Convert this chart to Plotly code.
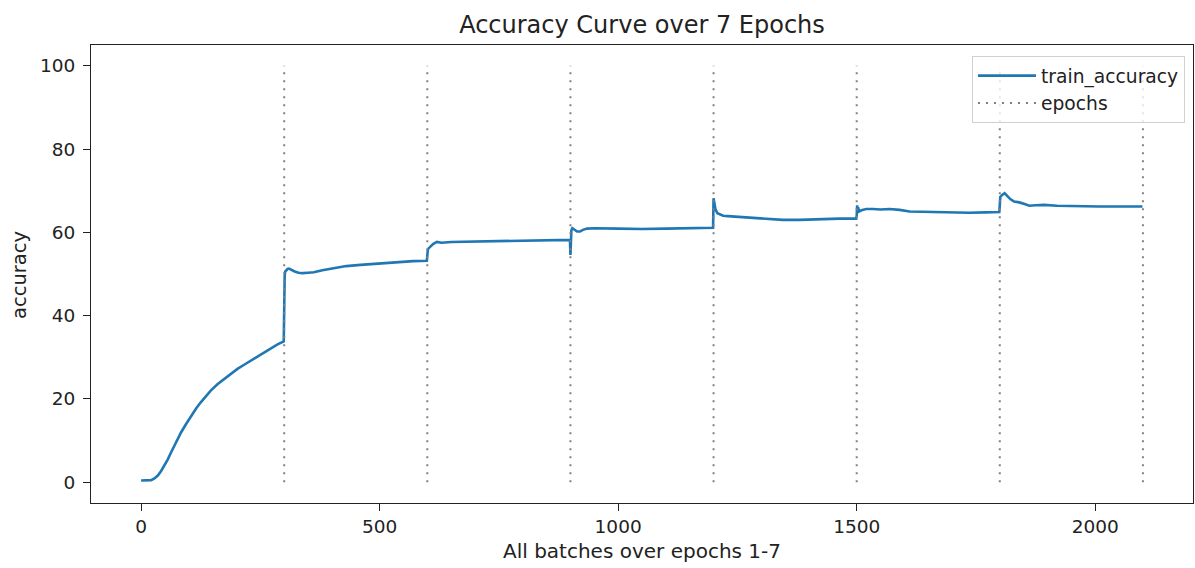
import plotly.graph_objects as go

# ---- data ----
batch_x = [
    0, 10, 21, 28, 35, 42, 49, 56, 63, 73, 84, 95, 105, 116, 126, 136, 146, 160, 174, 188, 202, 216, 230, 244, 258, 272, 286, 299,
    300, 301, 302, 304, 307, 310, 315, 322, 330, 338, 350, 362, 380, 400, 411, 430, 460, 481, 510, 540, 570, 599,
    600, 601, 603, 606, 612, 620, 630, 650, 700, 750, 800, 850, 899,
    900, 901, 902, 904, 908, 914, 920, 926, 935, 950, 1000, 1050, 1100, 1150, 1199,
    1200, 1202, 1204, 1208, 1213, 1220, 1230, 1245, 1260, 1280, 1300, 1345, 1380, 1420, 1464, 1499,
    1500, 1501, 1502, 1503, 1505, 1510, 1520, 1534, 1550, 1569, 1590, 1611, 1650, 1700, 1736, 1770, 1799,
    1800, 1801, 1805, 1810, 1815, 1822, 1830, 1841, 1852, 1862, 1875, 1893, 1920, 1950, 2008, 2050, 2099,
]
train_accuracy = [
    0.4, 0.4, 0.5, 0.9, 1.6, 2.7, 4.0, 5.5, 7.2, 9.6, 12.0, 14.1, 16.0, 17.8, 19.3, 20.7, 22.0, 23.5, 24.8, 26.1, 27.2, 28.2, 29.2, 30.2, 31.2, 32.2, 33.1, 33.8,
    47.0, 49.5, 50.6, 50.9, 51.2, 51.3, 51.0, 50.6, 50.3, 50.2, 50.3, 50.4, 50.9, 51.3, 51.6, 51.9, 52.2, 52.4, 52.7, 52.9, 53.1, 53.2,
    55.0, 55.8, 56.2, 56.6, 57.2, 57.7, 57.5, 57.7, 57.8, 57.9, 58.0, 58.1, 58.2,
    54.6, 59.5, 60.5, 61.0, 60.6, 60.2, 60.2, 60.6, 60.9, 61.0, 60.9, 60.8, 60.9, 61.0, 61.1,
    68.2, 67.0, 65.5, 64.6, 64.4, 64.0, 63.9, 63.8, 63.6, 63.5, 63.3, 63.0, 63.0, 63.2, 63.3, 63.3,
    64.0, 66.5, 64.8, 66.0, 65.0, 65.3, 65.6, 65.6, 65.5, 65.6, 65.4, 65.0, 64.9, 64.8, 64.7, 64.8, 64.9,
    66.5, 68.5, 69.0, 69.4, 68.8, 68.0, 67.4, 67.2, 66.8, 66.4, 66.5, 66.6, 66.4, 66.3, 66.2, 66.2, 66.2,
]
epoch_ends = [300, 600, 900, 1200, 1500, 1800, 2100]
epoch_line_bottom = 0
epoch_line_top = 100
x_ticks = [0, 500, 1000, 1500, 2000]
y_ticks = [0, 20, 40, 60, 80, 100]

FONT = "DejaVu Sans"
TXT = "#222222"

vx, vy = [], []
for e in epoch_ends:
    vx += [e, e, None]
    vy += [epoch_line_bottom, epoch_line_top, None]

fig = go.Figure()
fig.add_trace(go.Scatter(
    x=batch_x, y=train_accuracy, mode="lines", name="train_accuracy",
    line=dict(color="#1f77b4", width=2.6), legendgroup="a",
))
fig.add_trace(go.Scatter(
    x=vx, y=vy, mode="lines", name="epochs",
    line=dict(color="#808080", width=2, dash="2px,6px"), legendgroup="b",
))

W, H = 1195, 568
L, R, T, B = 91, 2, 45, 65
pw, ph = W - L - R, H - T - B

axis_common = dict(showgrid=False, zeroline=False, showline=True, mirror=True,
                   linecolor="#222222", linewidth=1, ticks="outside", ticklen=7,
                   tickcolor="#222222", tickfont=dict(size=18.5))

fig.update_layout(
    width=W, height=H,
    margin=dict(l=L, r=R, t=T, b=B),
    plot_bgcolor="white", paper_bgcolor="white",
    font=dict(family=FONT, size=19, color=TXT),
    title=dict(text="Accuracy Curve over 7 Epochs", x=(L + pw / 2) / W, xanchor="center",
               y=1 - 25 / H, yanchor="middle", yref="container",
               font=dict(family=FONT, size=24, color=TXT)),
    showlegend=True,
    legend=dict(x=(1185 - L) / pw, xanchor="right", y=(H - B - 56) / ph, yanchor="top",
                bgcolor="rgba(255,255,255,0.8)", bordercolor="#d0d0d0", borderwidth=1,
                font=dict(family=FONT, size=18.7, color=TXT), tracegroupgap=5,
                itemwidth=58, traceorder="normal"),
    xaxis=dict(range=[-105, 2205], tickvals=x_ticks, ticktext=[str(v) for v in x_ticks],
               ticklabelstandoff=0, **axis_common),
    yaxis=dict(range=[-5, 105], tickvals=y_ticks, ticktext=[str(v) for v in y_ticks],
               ticklabelstandoff=4, **axis_common),
    annotations=[
        dict(text="All batches over epochs 1-7", xref="paper", yref="paper",
             x=0.5, y=-(551 - (H - B)) / ph, xanchor="center", yanchor="middle",
             showarrow=False, font=dict(size=20, color=TXT)),
        dict(text="accuracy", xref="paper", yref="paper",
             x=(19 - L) / pw, y=(H - B - 275) / ph, xanchor="center", yanchor="middle", textangle=-90,
             showarrow=False, font=dict(size=19.5, color=TXT)),
    ],
)

fig.write_html("out.html")
